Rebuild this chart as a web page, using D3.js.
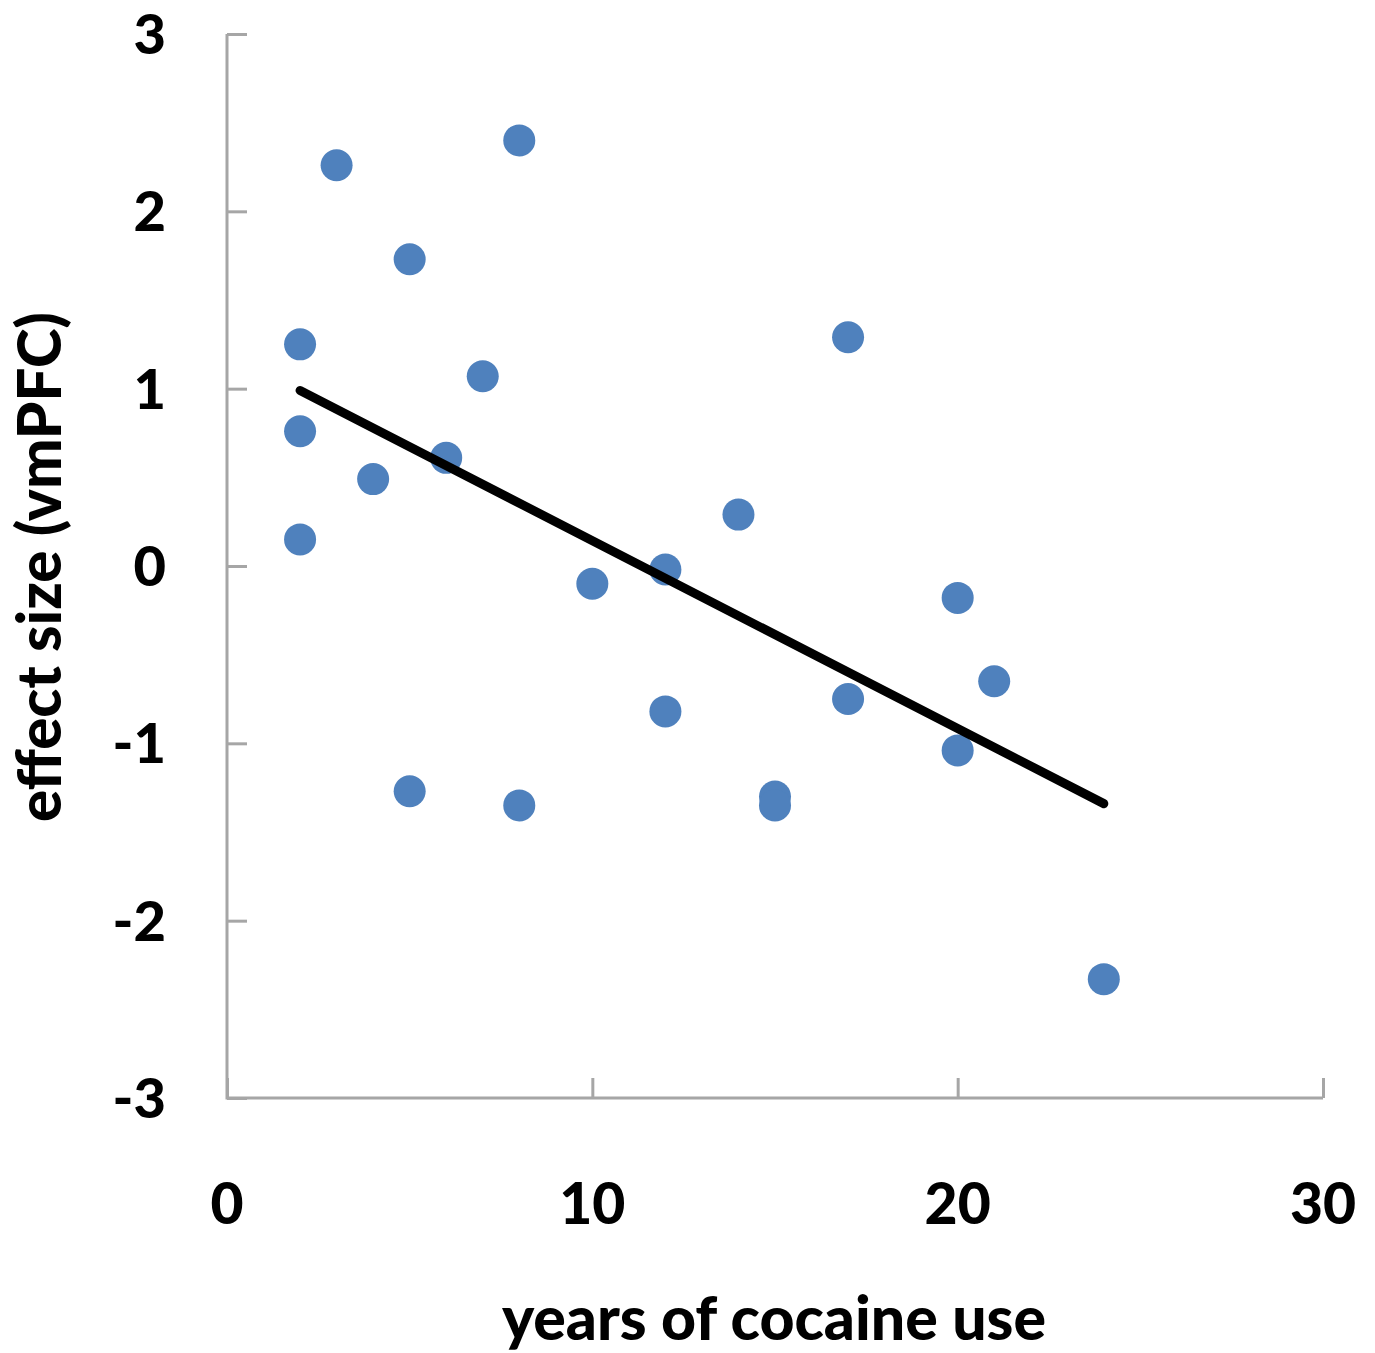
<!DOCTYPE html>
<html>
<head>
<meta charset="utf-8">
<script src="https://cdn.jsdelivr.net/npm/d3@7"></script>
<style>
  body { margin: 0; background: #fff; }
  svg text { font-family: Lato, "Open Sans", sans-serif; font-weight: 900; fill: #000; }
</style>
</head>
<body>
<svg id="chart" width="1375" height="1353"></svg>
<script>
// years of use vs effect size
const years = [2, 2, 2, 3, 4, 5, 5, 6, 7, 8, 8, 10, 12, 12, 14, 15, 15, 17, 17, 20, 20, 21, 24]
const effect = [1.25, 0.76, 0.15, 2.26, 0.49, 1.73, -1.27, 0.61, 1.07, 2.40, -1.35, -0.10, -0.02, -0.82, 0.29, -1.30, -1.35, 1.29, -0.75, -0.18, -1.04, -0.65, -2.33]
const trendX = [2, 24]
const trendY = [0.99, -1.34]
const xTicks = [0, 10, 20, 30]
const yTicks = [-3, -2, -1, 0, 1, 2, 3]

const svg = d3.select('#chart')

const x = d3.scaleLinear().domain([0, 30]).range([227, 1323])
const y = d3.scaleLinear().domain([-3, 3]).range([1098, 34])

const axisColor = '#a6a6a6'

// axes (ticks point inward, excel style)
const xAxis = svg.append('g')
    .attr('transform', `translate(0,${y(-3)})`)
    .call(d3.axisTop(x).tickValues(xTicks).tickSize(20).tickFormat(''))
xAxis.select('.domain').remove()
xAxis.selectAll('line').attr('stroke', axisColor).attr('stroke-width', 3)

const yAxis = svg.append('g')
    .attr('transform', `translate(${x(0)},0)`)
    .call(d3.axisRight(y).tickValues(yTicks).tickSize(20).tickFormat(''))
yAxis.select('.domain').remove()
yAxis.selectAll('line').attr('stroke', axisColor).attr('stroke-width', 3)

svg.append('path')
    .attr('d', `M${x(0)},${y(3)}V${y(-3)}H${x(30)}`)
    .attr('fill', 'none')
    .attr('stroke', axisColor)
    .attr('stroke-width', 3)

// tick labels
svg.append('g').selectAll('text')
    .data(xTicks)
    .join('text')
    .attr('x', d => x(d))
    .attr('y', 1224)
    .attr('text-anchor', 'middle')
    .style('font-size', '57px')
    .text(d => d)

svg.append('g').selectAll('text')
    .data(yTicks)
    .join('text')
    .attr('x', 166)
    .attr('y', d => y(d) + 20)
    .attr('text-anchor', 'end')
    .style('font-size', '56px')
    .text(d => d)

// axis titles
svg.append('text')
    .attr('x', 774)
    .attr('y', 1340)
    .attr('text-anchor', 'middle')
    .attr('textLength', 544)
    .attr('lengthAdjust', 'spacingAndGlyphs')
    .style('font-size', '60px')
    .text('years of cocaine use')

svg.append('text')
    .attr('transform', 'translate(61,567) rotate(-90)')
    .attr('text-anchor', 'middle')
    .attr('textLength', 510)
    .attr('lengthAdjust', 'spacingAndGlyphs')
    .style('font-size', '60px')
    .text('effect size (vmPFC)')

// points
svg.append('g').selectAll('circle')
    .data(years.map((d, i) => [d, effect[i]]))
    .join('circle')
    .attr('cx', d => x(d[0]))
    .attr('cy', d => y(d[1]))
    .attr('r', 16)
    .attr('fill', '#4f81bd')

// trend line
svg.append('path')
    .datum(trendX.map((d, i) => [d, trendY[i]]))
    .attr('d', d3.line().x(d => x(d[0])).y(d => y(d[1])))
    .attr('fill', 'none')
    .attr('stroke', '#000')
    .attr('stroke-width', 9)
    .attr('stroke-linecap', 'round')
</script>
</body>
</html>
